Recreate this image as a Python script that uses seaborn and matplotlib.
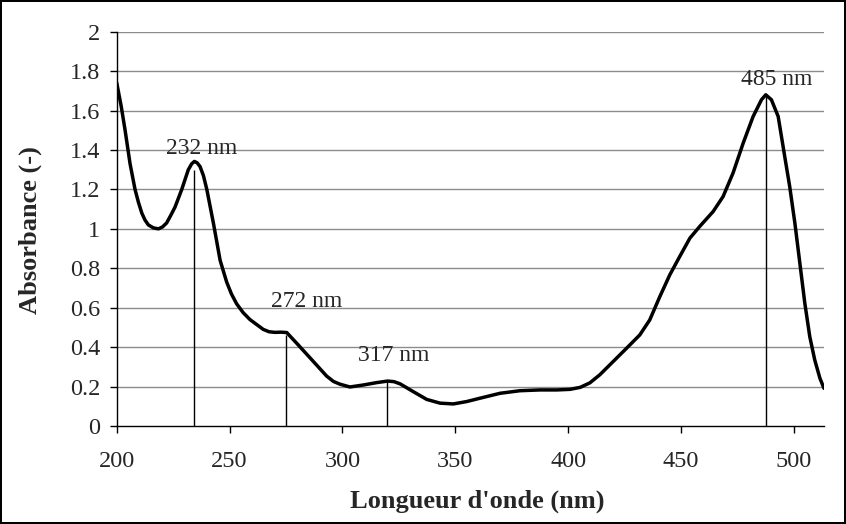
import numpy as np
import pandas as pd
import seaborn as sns
from matplotlib import pyplot as plt
from matplotlib.ticker import FuncFormatter

# spectrum
wavelength = [200.0, 202.0, 203.7, 205.9, 208.1, 209.6, 211.1, 212.5, 214.0, 216.2,
              218.5, 220.3, 222.1, 224.0, 225.8, 228.8, 231.7, 233.2, 234.4, 235.6,
              236.9, 238.4, 239.9, 242.8, 245.8, 248.7, 250.8, 253.1, 256.0, 259.0,
              264.9, 267.5, 270.1, 272.8, 275.3, 279.7, 285.6, 293.0, 296.0, 298.9,
              303.3, 309.2, 315.1, 320.0, 322.8, 325.5, 331.4, 337.3, 343.2, 349.1,
              355.0, 360.9, 369.8, 378.6, 387.5, 394.9, 400.8, 405.3, 409.6, 414.0,
              419.9, 425.8, 431.7, 436.1, 440.6, 445.0, 449.4, 453.9, 458.3, 464.2,
              468.6, 473.0, 477.5, 481.9, 485.6, 487.5, 490.0, 493.0, 495.9, 498.1,
              500.4, 502.6, 504.8, 507.0, 509.2, 511.5, 513.3]
absorbance = [1.74, 1.62, 1.50, 1.33, 1.20, 1.135, 1.08, 1.045, 1.02, 1.005,
              1.00, 1.01, 1.03, 1.07, 1.11, 1.20, 1.30, 1.33, 1.342, 1.335,
              1.316, 1.27, 1.20, 1.03, 0.84, 0.73, 0.67, 0.62, 0.575, 0.54,
              0.49, 0.478, 0.475, 0.476, 0.474, 0.42, 0.346, 0.253, 0.226, 0.212,
              0.198, 0.208, 0.22, 0.228, 0.225, 0.214, 0.174, 0.135, 0.116, 0.112,
              0.124, 0.141, 0.166, 0.179, 0.183, 0.183, 0.186, 0.196, 0.219, 0.26,
              0.327, 0.394, 0.462, 0.538, 0.657, 0.767, 0.86, 0.953, 1.013, 1.088,
              1.164, 1.283, 1.435, 1.57, 1.655, 1.68, 1.655, 1.57, 1.367, 1.215,
              1.029, 0.826, 0.623, 0.453, 0.335, 0.242, 0.191]

peak_x = [234.4, 274.8, 319.5, 487.5]
peak_y = [1.30, 0.46, 0.228, 1.68]
peak_labels = ['232 nm', '272 nm', '317 nm', '485 nm']
label_x = [237.6, 284.1, 322.5, 492.3]
label_y = [1.41, 0.633, 0.36, 1.756]

df = pd.DataFrame({'wl': wavelength, 'abs': absorbance})

sns.set_style('white')
plt.rcParams['font.family'] = ['Liberation Serif', 'DejaVu Serif']

fig = plt.figure(figsize=(8.46, 5.24), dpi=100, linewidth=1.5, edgecolor='black')
ax = fig.add_axes([0.138, 0.187, 0.836, 0.7525])

for v in np.arange(0.2, 2.01, 0.2):
    ax.axhline(v, color='#8c8c8c', lw=1.0, zorder=0)

sns.lineplot(data=df, x='wl', y='abs', color='black', lw=2.5, ax=ax, sort=False)
ax.vlines(peak_x, 0, peak_y, color='black', lw=1.0)
for tx, ty, t in zip(label_x, label_y, peak_labels):
    ax.text(tx, ty, t, ha='center', va='center', fontsize=17)

ax.set_xlim(200, 513.3)
ax.set_ylim(0, 2)
ax.set_xticks(range(200, 501, 50))
ax.set_yticks(np.arange(0, 2.01, 0.2))
ax.yaxis.set_major_formatter(FuncFormatter(lambda v, p: '%g' % round(v, 1)))
ax.tick_params(axis='both', direction='out', length=5, width=1, color='black',
               labelsize=17.5, left=True, bottom=True)
ax.tick_params(axis='x', pad=13)
ax.tick_params(axis='y', pad=7)
for s in ['top', 'right']:
    ax.spines[s].set_visible(False)
for s in ['left', 'bottom']:
    ax.spines[s].set_color('black')
    ax.spines[s].set_linewidth(1)

ax.set_xlabel("Longueur d'onde (nm)", fontsize=19, fontweight='bold')
ax.set_ylabel('Absorbance (-)', fontsize=19, fontweight='bold')
ax.xaxis.set_label_coords(0.51, -0.16)
ax.yaxis.set_label_coords(-0.106, 0.497)

fig.savefig('out.png', dpi=100, edgecolor=fig.get_edgecolor())
